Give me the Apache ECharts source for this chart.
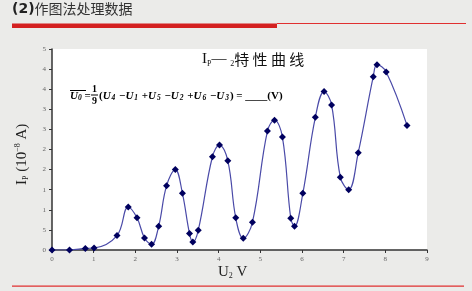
<!DOCTYPE html>
<html>
<head>
<meta charset="utf-8">
<script src="https://cdn.jsdelivr.net/npm/echarts@6/dist/echarts.min.js"></script>
<style>
html,body{margin:0;padding:0;background:#ebebe9;}
#c{width:472px;height:291px;}
</style>
</head>
<body>
<div id="c"></div>
<script>
// U2 (V)
const u2 = [0, 0.42, 0.80, 1.01, 1.56, 1.83, 2.04, 2.22, 2.39, 2.56, 2.75, 2.96, 3.13, 3.30, 3.38, 3.51,
  3.85, 4.02, 4.22, 4.41, 4.59, 4.81, 5.17, 5.34, 5.53, 5.73, 5.82, 6.02, 6.32, 6.53, 6.71, 6.92, 7.12,
  7.35, 7.71, 7.80, 8.02, 8.52];
// Ip (10^-8 A)
const ip = [0, 0, 0.04, 0.05, 0.36, 1.07, 0.80, 0.30, 0.14, 0.59, 1.60, 2.00, 1.41, 0.41, 0.20, 0.49,
  2.32, 2.61, 2.22, 0.80, 0.29, 0.69, 2.96, 3.23, 2.81, 0.79, 0.59, 1.41, 3.30, 3.94, 3.61, 1.81, 1.50,
  2.42, 4.31, 4.61, 4.43, 3.10];
const yTickLabels = ['0', '5', '1', '1', '2', '2', '3', '3', '4', '4', '5'];
const xTickLabels = ['0', '1', '2', '3', '4', '5', '6', '7', '8', '9'];

const chart = echarts.init(document.getElementById('c'), null, {renderer: 'canvas'});
const serif = '"Liberation Serif","DejaVu Serif",serif';
const points = u2.map((x, i) => [x, ip[i]]);

chart.setOption({
  backgroundColor: '#ebebe9',
  animation: false,
  grid: {left: 52, right: 45, top: 49, bottom: 41, show: true, backgroundColor: '#ffffff', borderWidth: 0},
  xAxis: {
    type: 'value', min: 0, max: 9, interval: 1,
    axisLine: {show: true, onZero: false, lineStyle: {color: '#333', width: 1.5}},
    axisTick: {show: true, length: 3, lineStyle: {color: '#333'}},
    axisLabel: {fontFamily: serif, fontSize: 7, color: '#666', margin: 6,
      formatter: v => xTickLabels[Math.round(v)]},
    splitLine: {show: false}
  },
  yAxis: {
    type: 'value', min: 0, max: 5, interval: 0.5,
    axisLine: {show: true, lineStyle: {color: '#333', width: 1.5}},
    axisTick: {show: true, length: 3, lineStyle: {color: '#333'}},
    axisLabel: {fontFamily: serif, fontSize: 7, color: '#666', margin: 6,
      formatter: v => yTickLabels[Math.round(v * 2)]},
    splitLine: {show: false}
  },
  series: [{
    type: 'line', data: points, smooth: 0.4,
    symbol: 'diamond', symbolSize: 7,
    lineStyle: {color: '#4a4aa8', width: 1.2},
    itemStyle: {color: '#00005e'}
  }],
  graphic: [
    // header
    {type: 'text', left: 12, top: 2, style: {
      text: '{b|(2)}{c|作图法处理数据}',
      rich: {
        b: {fontFamily: '"DejaVu Sans",sans-serif', fontWeight: 'bold', fontSize: 14, fill: '#222'},
        c: {fontFamily: '"Noto Sans CJK SC",sans-serif', fontSize: 14, fill: '#333'}
      }}},
    {type: 'rect', shape: {x: 12, y: 23.5, width: 265, height: 4.5}, style: {fill: '#d42020'}},
    {type: 'rect', shape: {x: 277, y: 23, width: 189, height: 1}, style: {fill: '#e03030'}},
    {type: 'rect', shape: {x: 12, y: 285.5, width: 452, height: 1.2}, style: {fill: '#e03030'}},
    // title
    {type: 'text', left: 202, top: 52, style: {
      text: '{t|I}{s|P}{t|— }{s|2}{c|特 性 曲 线}',
      rich: {
        t: {fontFamily: serif, fontSize: 15, fill: '#111'},
        s: {fontFamily: serif, fontSize: 8, fill: '#111', padding: [8, 0, 0, 0]},
        c: {fontFamily: '"Noto Sans CJK SC",sans-serif', fontSize: 15, fill: '#111'}
      }}},
    // formula
    {type: 'text', x: 70, y: 90, style: {
      text: '{u|U}{s|0}{n| =}',
      rich: {
        u: {fontFamily: serif, fontSize: 11, fontStyle: 'italic', fontWeight: 'bold', fill: '#000'},
        s: {fontFamily: serif, fontSize: 7.5, fontStyle: 'italic', fontWeight: 'bold', fill: '#000', padding: [4, 0, 0, 0]},
        n: {fontFamily: serif, fontSize: 11, fontWeight: 'bold', fill: '#000'}
      }}},
    {type: 'line', shape: {x1: 70, y1: 90.5, x2: 86, y2: 90.5}, style: {stroke: '#000', lineWidth: 1}},
    {type: 'text', x: 92, y: 84, style: {text: '1', font: 'bold 10px ' + serif, fill: '#000'}},
    {type: 'line', shape: {x1: 91, y1: 95, x2: 98, y2: 95}, style: {stroke: '#000', lineWidth: 1}},
    {type: 'text', x: 92, y: 96, style: {text: '9', font: 'bold 10px ' + serif, fill: '#000'}},
    {type: 'text', x: 99, y: 90, style: {
      text: '{n|(}{u|U}{s|4}{n| −}{u|U}{s|1}{n| +}{u|U}{s|5}{n| −}{u|U}{s|2}{n| +}{u|U}{s|6}{n| −}{u|U}{s|3}{n|) = ____(V)}',
      rich: {
        u: {fontFamily: serif, fontSize: 11, fontStyle: 'italic', fontWeight: 'bold', fill: '#000'},
        s: {fontFamily: serif, fontSize: 7.5, fontStyle: 'italic', fontWeight: 'bold', fill: '#000', padding: [4, 1, 0, 1]},
        n: {fontFamily: serif, fontSize: 11, fontWeight: 'bold', fill: '#000'}
      }}},
    // y-axis name
    {type: 'text', x: 14, y: 185, rotation: Math.PI / 2, style: {
      text: '{t|I}{s|P}{t| (10}{p|−8}{t| A)}',
      rich: {
        t: {fontFamily: serif, fontSize: 15, fill: '#222'},
        s: {fontFamily: serif, fontSize: 8, fill: '#222', padding: [8, 0, 0, 0]},
        p: {fontFamily: serif, fontSize: 8, fill: '#222', padding: [0, 0, 8, 0]}
      }}},
    // x-axis name
    {type: 'text', x: 218, y: 264, style: {
      text: '{t|U}{s|2}{t| V}',
      rich: {
        t: {fontFamily: serif, fontSize: 15, fill: '#222'},
        s: {fontFamily: serif, fontSize: 8, fill: '#222', padding: [8, 0, 0, 0]}
      }}}
  ]
});
</script>
</body>
</html>
